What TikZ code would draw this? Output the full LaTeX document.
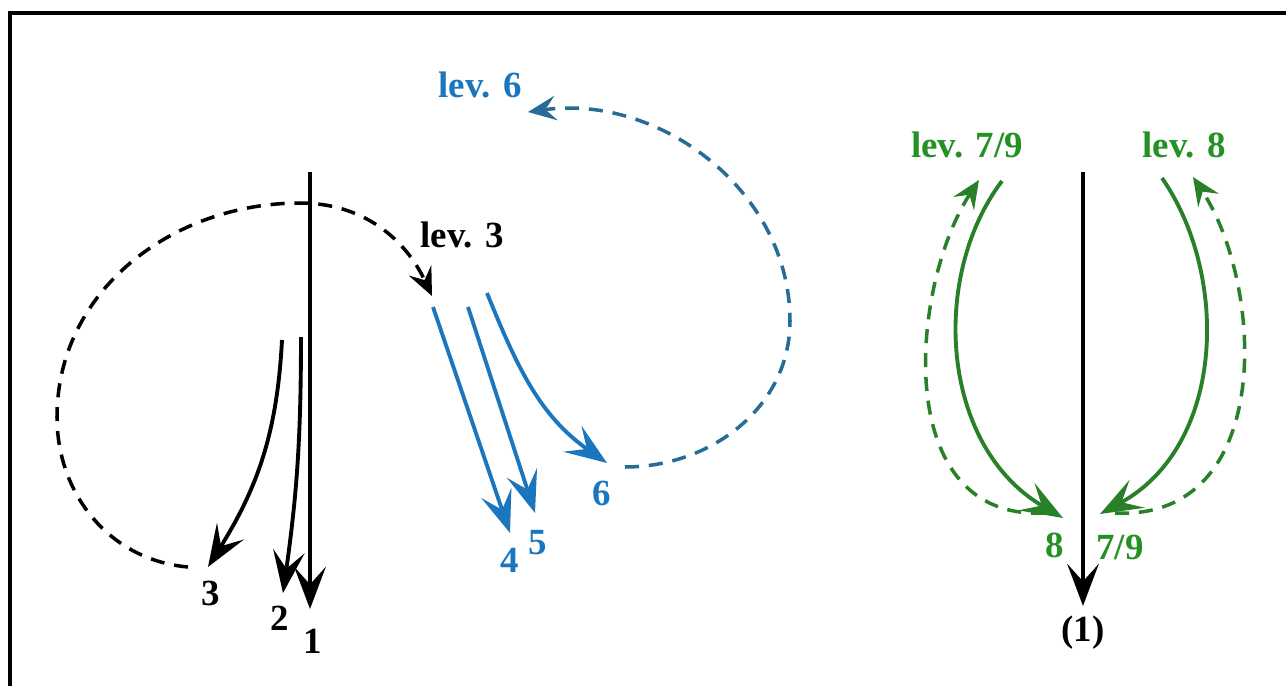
\documentclass[tikz,border=0pt]{standalone}
\usepackage{fontspec}
\setmainfont{Liberation Serif}
\usetikzlibrary{arrows.meta, positioning}
\definecolor{levblue}{RGB}{28,118,190}
\definecolor{loopblue}{RGB}{38,108,150}
\definecolor{levgreen}{RGB}{36,145,36}
\definecolor{arcgreen}{RGB}{40,128,40}

\begin{document}
\begin{tikzpicture}[
  every node/.style={font=\fontsize{10.5}{12}\selectfont\bfseries, inner sep=1pt},
  lab/.style={text=black},
  blab/.style={text=levblue},
  glab/.style={text=levgreen},
  path/.style={line width=1.1pt, -{Stealth[length=12pt,width=9pt,inset=5pt]}},
  jump/.style={line width=1pt, dash pattern=on 4pt off 2.8pt,
               -{Stealth[length=8pt,width=7pt,inset=3pt]}},
]
\useasboundingbox (0,0) rectangle (12.86,6.86);

% --- frame, cut at right and bottom
\draw[line width=1.4pt] (12.86,6.73) -- (0.10,6.73) -- (0.10,0);

% --- left: main line and branches 2, 3
\coordinate (s1) at (3.10,5.14);
\coordinate (e1) at (3.10,0.77);
\coordinate (s2) at (3.01,3.49);
\coordinate (e2) at (2.83,0.93);
\coordinate (s3) at (2.82,3.46);
\coordinate (e3) at (2.08,1.19);
\node[lab] (one)   at (3.13,0.45) {1};
\node[lab] (two)   at (2.80,0.68) {2};
\node[lab] (three) at (2.11,0.93) {3};
\draw[path] (s1) -- (e1);
\draw[path] (s2) to[bend left=4] (e2);
\draw[path] (s3) to[out=-93, in=58] (e3);

% --- jump to lev. 3
\node[lab] (lev3) at (4.62,4.51) {lev. 3};
\coordinate (j3a) at (1.88,1.19);
\coordinate (j3b) at (0.57,2.69);
\coordinate (j3c) at (3.00,4.83);
\coordinate (j3d) at (4.32,3.90);
\draw[jump] (j3a) to[out=175, in=-90] (j3b) to[out=90, in=180] (j3c)
  to[out=0, in=115] (j3d);

% --- middle: branches 4, 5, 6
\coordinate (s4) at (4.33,3.79);
\coordinate (e4) at (5.10,1.53);
\coordinate (s5) at (4.68,3.79);
\coordinate (e5) at (5.35,1.73);
\coordinate (s6) at (4.87,3.93);
\coordinate (e6) at (6.07,2.23);
\node[blab] (four) at (5.10,1.26) {4};
\node[blab] (five) at (5.38,1.43) {5};
\node[blab] (six)  at (6.02,1.93) {6};
\draw[path, levblue] (s4) -- (e4);
\draw[path, levblue] (s5) -- (e5);
\draw[path, levblue] (s6) to[out=-68, in=145] (e6);

% --- jump to lev. 6
\node[blab] (lev6) at (4.80,6.01) {lev. 6};
\coordinate (j6a) at (6.25,2.19);
\coordinate (j6b) at (7.90,3.65);
\coordinate (j6c) at (5.28,5.74);
\draw[jump, loopblue] (j6a) to[out=0, in=-90] (j6b) to[out=90, in=8] (j6c);

% --- right: line (1) with levels 7/9 and 8
\coordinate (r1) at (10.83,5.14);
\coordinate (r2) at (10.83,0.80);
\node[lab]  (paren) at (10.83,0.53) {(1)};
\node[glab] (eight) at (10.55,1.41) {8};
\node[glab] (sevn)  at (11.20,1.39) {7/9};
\node[glab] (lev79) at (9.67,5.41) {lev. 7/9};
\node[glab] (lev8)  at (11.84,5.41) {lev. 8};
\draw[path] (r1) -- (r2);

\coordinate (ga) at (10.02,5.05);
\coordinate (gb) at (10.63,1.68);
\coordinate (gc) at (10.45,1.73);
\coordinate (gd) at (9.79,5.06);
\draw[path, arcgreen] (ga) .. controls (9.30,4.10) and (9.40,2.40) .. (gb);
\draw[jump, arcgreen] (gc) .. controls (8.90,1.65) and (9.10,4.00) .. (gd);

\coordinate (gf) at (11.62,5.08);
\coordinate (gg) at (11.00,1.72);
\coordinate (gh) at (11.15,1.73);
\coordinate (gi) at (11.93,5.09);
\draw[path, arcgreen] (gf) .. controls (12.30,4.10) and (12.25,2.40) .. (gg);
\draw[jump, arcgreen] (gh) .. controls (12.75,1.65) and (12.65,4.00) .. (gi);
\end{tikzpicture}
\end{document}
